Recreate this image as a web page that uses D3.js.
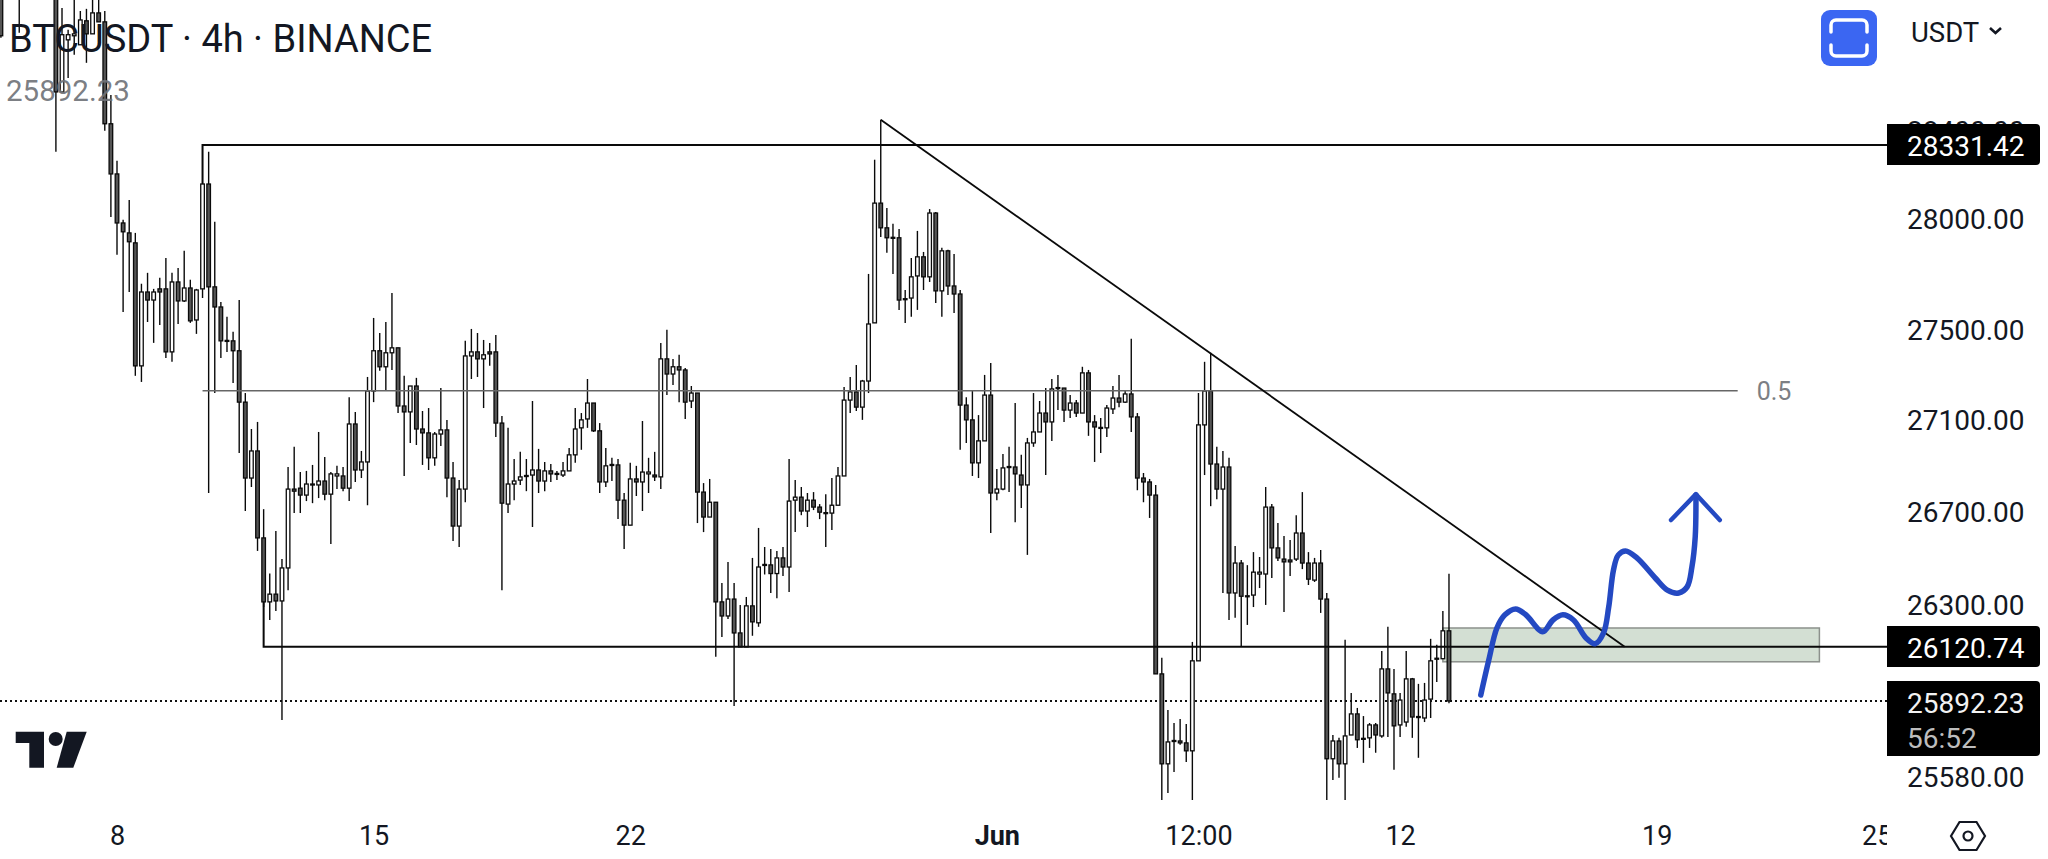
<!DOCTYPE html>
<html>
<head>
<meta charset="utf-8">
<title>BTCUSDT 4h</title>
<script src="https://cdn.jsdelivr.net/npm/d3@7"></script>
<style>
  html, body { margin: 0; padding: 0; background: #fff; overflow: hidden; }
  svg { display: block; font-family: Roboto, sans-serif; }
</style>
</head>
<body>
<svg width="2048" height="859"></svg>
<script>
// first bar of the visible range, one bar every 4 hours
const firstBar = new Date(Date.UTC(2023, 4, 4, 20));

const opens = [
  29150,29120,29180,29250,29090,29280,29200,29330,29260,29200,
  28576,28818,28837,28795,28907,28846,28944,28902,28429,28199,
  27976,27931,27886,27336,27665,27629,27679,27679,27398,27710,
  27625,27683,27540,27679,28153,27688,27598,27447,27447,27403,
  27176,26844,26962,26585,26311,26344,26315,26456,26796,26800,
  26770,26814,26814,26831,26774,26853,26853,26800,27080,26879,
  26914,27225,27403,27332,27394,27416,27159,27133,27247,27058,
  27041,26932,27036,27054,26844,26636,26796,27380,27398,27367,
  27398,27398,27084,26731,26818,26835,26851,26857,26879,26831,
  26875,26860,26857,26875,26945,27063,27102,27172,27050,26827,
  26899,26901,26748,26640,26840,26827,26862,26857,26849,27367,
  27300,27332,27318,27181,27216,26783,26675,26739,26311,26251,
  26323,26179,26120,26294,26222,26467,26469,26432,26499,26460,
  26748,26761,26701,26748,26718,26690,26692,26726,26853,27185,
  27221,27154,27269,27527,28066,27954,27907,27909,27631,27638,
  27737,27823,27733,28021,27670,27850,27692,27656,27163,27098,
  26910,27006,27207,26779,26796,26890,26892,26857,26814,26997,
  27045,27128,27089,27236,27238,27141,27172,27128,27305,27089,
  27061,27063,27146,27194,27176,27212,27111,26844,26827,26770,
  26006,25630,25723,25725,25717,25684,26061,27076,27225,26905,
  26796,26892,26349,26477,26333,26340,26430,26430,26718,26542,
  26494,26490,26494,26606,26477,26404,26477,26323,25651,25725,
  25630,25750,25838,25732,25738,25792,25746,26027,25922,25792,
  25804,25985,25823,25821,25900,26068,26070,26188
];
const highs = [
  29200,29260,29340,29380,29350,29420,29390,29460,29410,29300,
  28967,28865,29100,28953,28963,29050,29050,28953,28562,28259,
  27990,28080,27931,27702,27751,27679,27729,27818,27751,27773,
  27850,27720,27679,28153,28300,27981,27620,27554,27487,27629,
  27216,27058,27089,26709,26432,26615,26494,26892,26980,26870,
  26875,26901,27045,26936,26870,26897,26892,27198,27133,26962,
  27287,27549,27482,27531,27661,27416,27292,27247,27283,27137,
  27150,27045,27238,27098,26914,26835,27447,27500,27482,27451,
  27438,27473,27115,27063,26927,26958,26927,27181,26971,26914,
  26905,26875,26914,26975,27150,27128,27278,27172,27084,26975,
  26932,26927,26779,26910,26897,27093,26932,26958,27438,27496,
  27367,27385,27327,27247,27216,26822,26840,26739,26392,26482,
  26392,26298,26332,26499,26628,26546,26537,26529,26546,26927,
  26835,26805,26779,26783,26731,26774,26844,26892,27243,27287,
  27340,27274,27746,28264,28447,28044,27972,27949,27674,27818,
  27940,27845,28039,28026,27864,27855,27836,27674,27198,27229,
  27119,27296,27349,26883,26949,26980,27172,26945,27019,27216,
  27181,27238,27278,27296,27238,27207,27185,27332,27318,27119,
  27106,27163,27247,27296,27229,27456,27128,26866,26840,26814,
  26074,25854,25800,25817,25796,26141,27216,27354,27394,26980,
  26962,26932,26550,26490,26468,26524,26503,26805,26731,26649,
  26593,26576,26683,26783,26524,26499,26533,26349,25750,25738,
  26150,25926,25863,25829,25800,25800,26103,26205,26027,25926,
  26103,25989,25964,25968,26154,26129,26272,26431
];
const lows = [
  28828,29030,29090,28851,29040,29150,29110,29200,29060,28300,
  28576,28641,28748,28795,28711,28846,28902,28397,28003,27832,
  27576,27665,27292,27265,27531,27438,27518,27371,27354,27522,
  27620,27527,27478,27638,26779,27216,27371,27398,27260,26953,
  26701,26805,26529,26289,26234,26272,25813,26361,26692,26692,
  26744,26735,26757,26748,26559,26796,26787,26744,26827,26844,
  26726,27176,27314,27225,27318,27128,26853,26997,26988,26901,
  26879,26897,26984,26761,26572,26546,26739,27278,27287,27150,
  27336,27023,26361,26692,26748,26814,26787,26632,26779,26787,
  26827,26835,26849,26875,26910,26967,27063,27045,26779,26805,
  26831,26666,26537,26640,26766,26701,26779,26831,26796,27207,
  27251,27176,27102,27150,26649,26610,26675,26078,26162,26238,
  25871,26120,26120,26167,26205,26428,26349,26327,26421,26353,
  26610,26683,26632,26705,26666,26546,26619,26761,26853,27128,
  27137,27098,27216,27527,27913,27841,27746,27585,27527,27554,
  27585,27674,27710,27616,27554,27652,27571,26967,26997,26853,
  26844,27006,26606,26748,26791,26783,26653,26714,26512,26980,
  27045,26857,27006,27141,27089,27106,27111,27128,27028,26914,
  26953,27023,27124,27154,27172,27045,26791,26739,26671,26006,
  25470,25509,25596,25709,25638,25470,26061,26857,26722,26752,
  26349,26234,26243,26120,26213,26289,26370,26298,26413,26486,
  26268,26421,26486,26451,26383,26396,26264,25470,25563,25572,
  25470,25750,25696,25634,25696,25676,25738,25742,25605,25742,
  25784,25738,25655,25804,25821,25972,26070,25883
];
const closes = [
  28837,29180,29250,29090,29280,29200,29330,29260,29200,28576,
  28842,28842,28846,28911,28846,28944,28902,28429,28199,27976,
  27936,27891,27336,27665,27629,27665,27665,27398,27710,27625,
  27683,27536,27674,28153,27688,27598,27447,27449,27403,27176,
  26844,26962,26585,26311,26344,26315,26456,26796,26787,26770,
  26818,26818,26831,26774,26862,26862,26800,27080,26879,26914,
  27225,27403,27332,27394,27416,27159,27133,27247,27058,27041,
  26932,27036,27054,26844,26636,26796,27380,27398,27367,27385,
  27389,27084,26735,26818,26831,26849,26855,26879,26831,26875,
  26862,26864,26875,26945,27058,27098,27172,27050,26827,26897,
  26903,26748,26640,26840,26827,26870,26870,26849,27367,27300,
  27332,27318,27176,27216,26783,26675,26739,26311,26251,26323,
  26179,26120,26294,26226,26460,26471,26432,26499,26460,26744,
  26761,26701,26748,26718,26696,26694,26726,26853,27185,27221,
  27154,27269,27522,28066,27954,27909,27911,27629,27635,27733,
  27823,27733,28021,27670,27850,27692,27656,27163,27098,26910,
  27006,27207,26779,26796,26888,26894,26862,26814,26997,27045,
  27128,27089,27234,27240,27141,27172,27128,27305,27089,27067,
  27065,27150,27194,27176,27212,27111,26844,26827,26770,26006,
  25630,25721,25727,25717,25684,26061,27076,27225,26905,26796,
  26892,26349,26477,26335,26337,26438,26438,26718,26542,26499,
  26482,26482,26606,26477,26408,26477,26323,25651,25725,25630,
  25746,25838,25730,25736,25792,25750,26027,25926,25788,25896,
  25985,25825,25827,25896,26061,26072,26188,25892.23
];

const priceTicks = [28400, 28000, 27500, 27100, 26700, 26300, 25580];
const timeTicks = [
  new Date(Date.UTC(2023, 4, 8)), new Date(Date.UTC(2023, 4, 15)), new Date(Date.UTC(2023, 4, 22)),
  new Date(Date.UTC(2023, 5, 1)), new Date(Date.UTC(2023, 5, 6, 12)), new Date(Date.UTC(2023, 5, 12)),
  new Date(Date.UTC(2023, 5, 19)), new Date(Date.UTC(2023, 5, 25))
];
const timeLabels = ["8", "15", "22", "Jun", "12:00", "12", "19", "25"];

// drawn levels
const topLevel = 28331.42, bottomLevel = 26120.74, midLevel = 27226, lastPrice = 25892.23;
const peakPrice = 28447;
const zoneTop = 26200, zoneBottom = 26057;

// hand drawn arrow, days after May 8 and price
const sketchDays = [37.20,37.42,37.64,37.86,38.15,38.43,38.89,39.17,39.44,39.73,40.07,40.32,40.55,40.69,40.82,40.95,41.15,41.46,41.96,42.29,42.60,42.83,42.96,43.05,43.07];
const sketchPrices = [25917,26065,26200,26256,26281,26256,26184,26234,26256,26234,26158,26133,26179,26289,26447,26511,26529,26499,26413,26361,26349,26375,26460,26589,26770];
const headDays = [42.39, 43.07, 43.72];
const headPrices = [26662, 26774, 26662];

const paneRight = 1887, paneBottom = 800;
const svg = d3.select("svg");

const dayZero = timeTicks[0];
const x = d3.scaleUtc()
    .domain([dayZero, timeTicks[6]])
    .range([117, 117 + 42 * 36.66]);
const y = d3.scaleLog()
    .domain([topLevel, bottomLevel])
    .range([145, 646.7]);
const xDays = d => x(d3.utcMinute.offset(dayZero, Math.round(d * 1440)));

const bars = opens.map((o, i) => ({
  date: d3.utcHour.offset(firstBar, 4 * i), o: o, h: highs[i], l: lows[i], c: closes[i]
}));

svg.append("clipPath").attr("id", "pane").append("rect")
    .attr("width", paneRight).attr("height", paneBottom);
svg.append("clipPath").attr("id", "timeClip").append("rect")
    .attr("width", paneRight).attr("height", 859);

const pane = svg.append("g").attr("clip-path", "url(#pane)");

// zone goes under the candles
const zoneStart = new Date(Date.UTC(2023, 5, 13, 4)), zoneEnd = new Date(Date.UTC(2023, 5, 23, 10, 30));
pane.append("rect")
    .attr("x", x(zoneStart)).attr("y", y(zoneTop))
    .attr("width", x(zoneEnd) - x(zoneStart)).attr("height", y(zoneBottom) - y(zoneTop))
    .attr("fill", "#d3dfd3").attr("stroke", "#8c918c").attr("stroke-width", 1.5);

// dotted last price line
pane.append("line")
    .attr("x1", 0).attr("x2", paneRight)
    .attr("y1", y(lastPrice)).attr("y2", y(lastPrice))
    .attr("stroke", "#111").attr("stroke-width", 2).attr("stroke-dasharray", "2,3");

const candle = pane.append("g").selectAll("g").data(bars).join("g");
candle.append("line")
    .attr("x1", d => x(d.date)).attr("x2", d => x(d.date))
    .attr("y1", d => y(d.h)).attr("y2", d => y(d.l))
    .attr("stroke", "#0a0a0a").attr("stroke-width", 1.4);
candle.append("rect")
    .attr("x", d => x(d.date) - 1.8)
    .attr("width", 3.6)
    .attr("y", d => y(Math.max(d.o, d.c)))
    .attr("height", d => Math.max(1, Math.abs(y(d.o) - y(d.c))))
    .attr("fill", d => d.c < d.o ? "#555" : "#fff")
    .attr("stroke", "#0a0a0a").attr("stroke-width", 1.3);

// drawn lines
const topStart = bars[33].date, bottomStart = bars[43].date, peakBar = bars[144].date;
const trendEnd = new Date(Date.UTC(2023, 5, 18, 3));
const lineGen = d3.line().x(d => x(d[0])).y(d => y(d[1]));
const drawn = pane.append("g").attr("fill", "none");
drawn.append("path")
    .attr("d", lineGen([[topStart, 28153], [topStart, topLevel], [x.invert(paneRight), topLevel]]))
    .attr("stroke", "#0a0a0a").attr("stroke-width", 2);
drawn.append("path")
    .attr("d", lineGen([[bottomStart, 26311], [bottomStart, bottomLevel], [x.invert(paneRight), bottomLevel]]))
    .attr("stroke", "#0a0a0a").attr("stroke-width", 2);
drawn.append("path")
    .attr("d", lineGen([[topStart, midLevel], [new Date(Date.UTC(2023, 5, 21, 5)), midLevel]]))
    .attr("stroke", "#666").attr("stroke-width", 1.6);
drawn.append("path")
    .attr("d", lineGen([[peakBar, peakPrice], [trendEnd, bottomLevel]]))
    .attr("stroke", "#0a0a0a").attr("stroke-width", 1.8);

pane.append("text")
    .attr("x", 1774).attr("y", y(midLevel)).attr("dy", ".36em")
    .attr("text-anchor", "middle").attr("font-size", 25).attr("fill", "#7c7f84")
    .text("0.5");

// blue sketch
const sketchLine = d3.line().curve(d3.curveCatmullRom)
    .x((d, i) => xDays(sketchDays[i])).y(d => y(d));
const headLine = d3.line()
    .x((d, i) => xDays(headDays[i])).y(d => y(d));
pane.append("path").attr("d", sketchLine(sketchPrices))
    .attr("fill", "none").attr("stroke", "#2449c2").attr("stroke-width", 5.5).attr("stroke-linecap", "round");
pane.append("path").attr("d", headLine(headPrices))
    .attr("fill", "none").attr("stroke", "#2449c2").attr("stroke-width", 4.5).attr("stroke-linecap", "round").attr("stroke-linejoin", "round");

// axes
const xAxis = d3.axisBottom(x)
    .tickValues(timeTicks)
    .tickFormat((d, i) => timeLabels[i])
    .tickSize(0).tickPadding(0);
const xg = svg.append("g").attr("clip-path", "url(#timeClip)")
    .append("g").attr("transform", "translate(0,826)").call(xAxis);
xg.select(".domain").remove();
xg.selectAll("text").attr("font-family", "Roboto, sans-serif").attr("font-size", 27).attr("fill", "#131722")
    .attr("font-weight", (d, i) => timeLabels[i] === "Jun" ? 700 : 400);

const yAxis = d3.axisRight(y)
    .tickValues(priceTicks)
    .tickFormat(d3.format(".2f"))
    .tickSize(0).tickPadding(20);
const yg = svg.append("g").attr("transform", "translate(" + paneRight + ",1.5)").call(yAxis);
yg.select(".domain").remove();
yg.selectAll("text").attr("font-family", "Roboto, sans-serif").attr("font-size", 28).attr("fill", "#131722");

// price tags
function tag(yTop, h, lines) {
  svg.append("path")
      .attr("d", "M" + paneRight + "," + yTop + "h149a4,4 0 0 1 4,4v" + (h - 8) + "a4,4 0 0 1 -4,4h-149z")
      .attr("fill", "#000");
  lines.forEach(l => {
    svg.append("text")
        .attr("x", 1907).attr("y", l.y).attr("dy", ".36em")
        .attr("font-size", 28).attr("fill", l.color).text(l.text);
  });
}
tag(124, 41, [{y: y(topLevel) + 1, text: "28331.42", color: "#fff"}]);
tag(626, 41, [{y: y(bottomLevel) + 1, text: "26120.74", color: "#fff"}]);
tag(681, 75, [{y: 703, text: "25892.23", color: "#f2f2f2"}, {y: 738, text: "56:52", color: "#bdbdbd"}]);

// header
svg.append("text").attr("x", 9).attr("y", 52).attr("font-size", 38).attr("fill", "#131722")
    .text("BTCUSDT · 4h · BINANCE");
svg.append("text").attr("x", 6).attr("y", 101).attr("font-size", 29.5).attr("fill", "#6f7278").attr("fill-opacity", 0.92)
    .text("25892.23");

// logo
const logo = svg.append("g").attr("fill", "#131722");
logo.append("path").attr("d", "M15.7,731.7H44V767.7H29.3V743H15.7Z");
logo.append("circle").attr("cx", 55.7).attr("cy", 739).attr("r", 7);
logo.append("path").attr("d", "M66.7,731.7H86.7L73.3,767.7H56.7Z");

// top right button and currency
svg.append("rect").attr("x", 1821).attr("y", 10).attr("width", 56).attr("height", 56).attr("rx", 9).attr("fill", "#3b66f2");
svg.append("path")
    .attr("d", "M1831,32V25a5,5 0 0 1 5,-5H1862a5,5 0 0 1 5,5V32M1831,45V51a5,5 0 0 0 5,5H1862a5,5 0 0 0 5,-5V45")
    .attr("fill", "none").attr("stroke", "#fff").attr("stroke-width", 3.5).attr("stroke-linecap", "round");
svg.append("text").attr("x", 1911).attr("y", 42).attr("font-size", 27.5).attr("fill", "#131722").text("USDT");
svg.append("path").attr("d", "M1990,28l5.5,5l5.5,-5")
    .attr("fill", "none").attr("stroke", "#131722").attr("stroke-width", 2.6);

// settings icon
const gear = svg.append("g").attr("transform", "translate(1968,836)").attr("fill", "none").attr("stroke", "#131722").attr("stroke-width", 2.2);
gear.append("path").attr("d", "M-17,0L-8.5,-14H8.5L17,0L8.5,14H-8.5Z");
gear.append("circle").attr("r", 4.5);
</script>
</body>
</html>
